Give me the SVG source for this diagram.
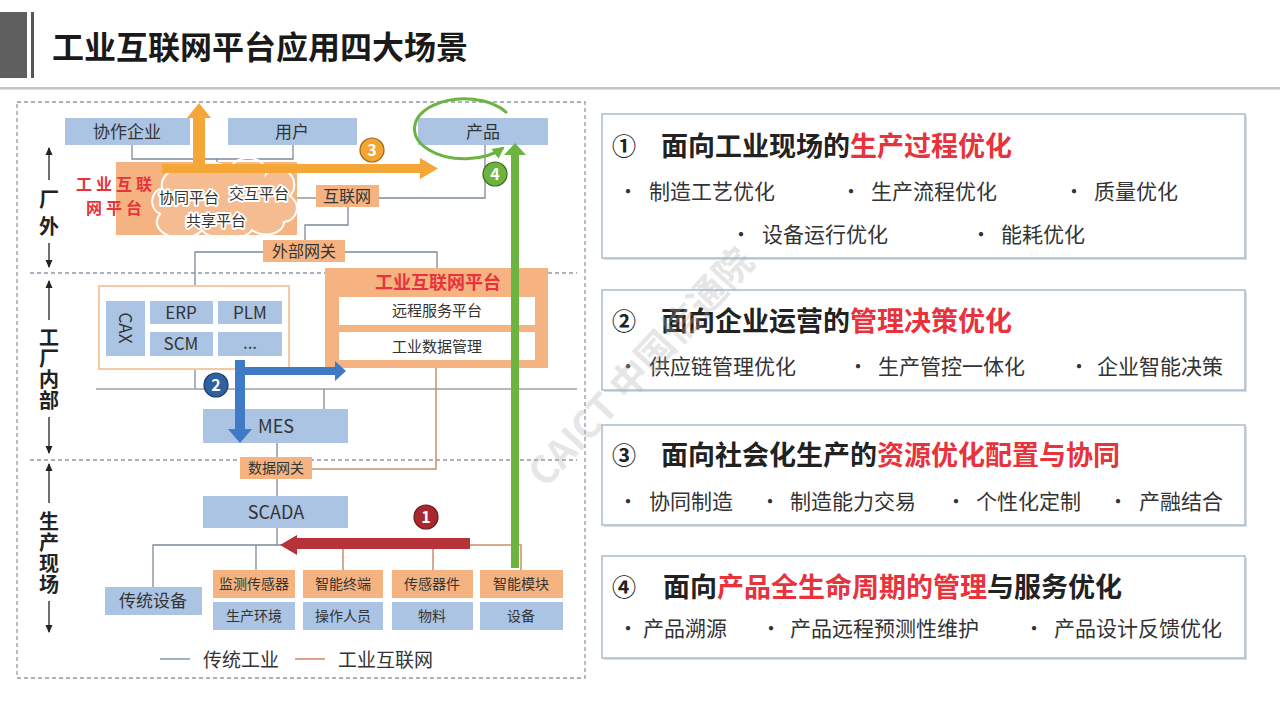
<svg xmlns="http://www.w3.org/2000/svg" width="1280" height="719" viewBox="0 0 1280 719">
<defs>
<style>
text{font-family:"Noto Sans CJK SC","Noto Sans",sans-serif;fill:#333}
.blue{fill:#abc4e3}
.org{fill:#f5b382}
.c{text-anchor:middle}
.f14{font-size:14px}
.f15{font-size:15px}
.f16{font-size:16px}
.f17{font-size:17px}
.f18{font-size:18px}
.side{font-size:20px;font-weight:bold;fill:#222;writing-mode:vertical-rl}
.red{fill:#e8323c;font-weight:bold}
.gl{stroke:#7d8a99;stroke-width:1.3;fill:none}
.ol{stroke:#c8906a;stroke-width:1.5;fill:none}
.dash{stroke:#8c9bab;stroke-width:1.3;stroke-dasharray:4 3;fill:none}
.halo{stroke:#fff;stroke-width:4;stroke-linejoin:round;paint-order:stroke}
.card{fill:#fff;stroke:#a8bccb;stroke-width:1.5}
.shadow{fill:#d9dde2}
.ct{font-size:27px;font-weight:bold;fill:#222}
.cn{font-size:24px;font-weight:bold;fill:#222}
.cr{fill:#e8323c}
.bt{font-size:21px;fill:#333}
.bul{font-size:20px;fill:#333}
.num{font-size:16px;font-weight:bold;fill:#fff;text-anchor:middle}
</style>
<marker id="ahK" markerWidth="8" markerHeight="8" refX="7" refY="4" orient="auto" markerUnits="userSpaceOnUse"><path d="M0,0.5 L8,4 L0,7.5 z" fill="#222"/></marker>
<marker id="ahG" markerWidth="14" markerHeight="14" refX="10" refY="7" orient="auto" markerUnits="userSpaceOnUse"><path d="M0,1 L12,7 L0,13 z" fill="#6cb33f"/></marker>
</defs>

<rect width="1280" height="719" fill="#fff"/>

<!-- header -->
<g id="header">
<rect x="0" y="12" width="27" height="66" fill="#5f5f5f"/>
<rect x="31" y="12" width="3" height="66" fill="#555"/>
<text x="52" y="59" style="font-size:32px;font-weight:bold;fill:#1a1a1a">工业互联网平台应用四大场景</text>
<rect x="0" y="87" width="1280" height="2.5" fill="#c4c4c4"/>
</g>

<!-- outer frame and section dividers -->
<g id="frame">
<rect x="17" y="102" width="568" height="576" class="dash"/>
<line x1="30" y1="273" x2="577" y2="273" class="dash"/>
<line x1="30" y1="460" x2="577" y2="460" class="dash"/>
</g>

<!-- side labels -->
<g id="side-outside">
<line x1="49" y1="180" x2="49" y2="148" stroke="#222" stroke-width="1.3" marker-end="url(#ahK)"/>
<text x="49" y="189" class="side" style="letter-spacing:7px">厂外</text>
<line x1="49" y1="243" x2="49" y2="267" stroke="#222" stroke-width="1.3" marker-end="url(#ahK)"/>
</g>
<g id="side-inside">
<line x1="49" y1="320" x2="49" y2="281" stroke="#222" stroke-width="1.3" marker-end="url(#ahK)"/>
<text x="49" y="327" class="side" style="letter-spacing:1px">工厂内部</text>
<line x1="49" y1="417" x2="49" y2="453" stroke="#222" stroke-width="1.3" marker-end="url(#ahK)"/>
</g>
<g id="side-field">
<line x1="49" y1="503" x2="49" y2="464" stroke="#222" stroke-width="1.3" marker-end="url(#ahK)"/>
<text x="49" y="511" class="side" style="letter-spacing:1px">生产现场</text>
<line x1="49" y1="601" x2="49" y2="632" stroke="#222" stroke-width="1.3" marker-end="url(#ahK)"/>
</g>

<!-- connectors -->
<g id="connectors">
<polyline points="132,145 132,159 293,159 293,145" class="gl"/>
<line x1="217" y1="159" x2="217" y2="163" class="gl"/>
<line x1="297" y1="198" x2="316" y2="198" class="gl"/>
<polyline points="379,198 485,198 485,145" class="gl"/>
<polyline points="348,207 348,225 305,225 305,240" class="gl"/>
<polyline points="263,252 195,252 195,286" class="gl"/>
<polyline points="345,252 437,252 437,268" class="gl"/>
<line x1="195" y1="369" x2="195" y2="389" class="gl"/>
<line x1="96" y1="389" x2="577" y2="389" stroke="#a0a0a0" stroke-width="1.5"/>
<line x1="324" y1="389" x2="324" y2="409" class="gl"/>
<line x1="277" y1="443" x2="277" y2="457" class="gl"/>
<polyline points="312,469 436,469 436,368" class="ol"/>
<line x1="277" y1="479" x2="277" y2="496" class="gl"/>
<line x1="277" y1="528" x2="277" y2="545" class="gl"/>
<polyline points="153,587 153,545 282,545" class="gl"/>
<line x1="256" y1="545" x2="256" y2="570" class="gl"/>
<line x1="343" y1="549" x2="343" y2="570" class="ol"/>
<line x1="433" y1="549" x2="433" y2="570" class="ol"/>
<polyline points="468,545 521,545 521,570" class="ol"/>
</g>

<!-- outside-factory nodes -->
<g id="node-xiezuo">
<rect x="65" y="118" width="125" height="27" class="blue"/>
<text x="127" y="138" class="c f17">协作企业</text>
</g>
<g id="node-yonghu">
<rect x="228" y="118" width="129" height="27" class="blue"/>
<text x="292" y="138" class="c f17">用户</text>
</g>
<g id="node-chanpin">
<rect x="418" y="118" width="130" height="27" class="blue"/>
<text x="483" y="138" class="c f17">产品</text>
</g>

<g id="node-platform-cloud">
<rect x="116" y="162" width="181" height="73" class="org"/>
<path d="M160,214 a14,14 0 0 1 2,-26 a18,16 0 0 1 28,-16 a22,14 0 0 1 40,-2 a18,14 0 0 1 36,4 a16,16 0 0 1 24,22 a14,14 0 0 1 -6,26 a18,12 0 0 1 -32,8 a26,12 0 0 1 -50,0 a18,12 0 0 1 -42,-16 z" fill="#fff" fill-opacity="0.12" stroke="#fff" stroke-width="2"/>
<text x="76" y="190" class="red" style="font-size:16px" textLength="76" lengthAdjust="spacing">工业互联</text>
<text x="86" y="214" class="red" style="font-size:16px" textLength="56" lengthAdjust="spacing">网平台</text>
<text x="189" y="203" class="c f15 halo">协同平台</text>
<text x="259" y="199" class="c f15 halo">交互平台</text>
<text x="216" y="226" class="c f15 halo">共享平台</text>
</g>

<g id="node-internet">
<rect x="316" y="185" width="63" height="22" class="org"/>
<text x="347" y="202" class="c f16">互联网</text>
</g>
<g id="node-ext-gateway">
<rect x="263" y="240" width="82" height="22" class="org"/>
<text x="304" y="257" class="c f16">外部网关</text>
</g>

<!-- factory internal -->
<g id="node-it-systems">
<rect x="99" y="286" width="190" height="83" fill="#fff" stroke="#f5c9a6" stroke-width="2"/>
<rect x="106" y="301" width="39" height="55" class="blue"/>
<text transform="translate(125,328) rotate(90)" x="0" y="6" class="c f17">CAX</text>
<rect x="150" y="301" width="63" height="23" class="blue"/>
<text x="181" y="319" class="c f17">ERP</text>
<rect x="218" y="301" width="64" height="23" class="blue"/>
<text x="250" y="319" class="c f17">PLM</text>
<rect x="150" y="332" width="63" height="24" class="blue"/>
<text x="181" y="350" class="c f17">SCM</text>
<rect x="218" y="332" width="64" height="24" class="blue"/>
<text x="250" y="349" class="c f17">...</text>
</g>

<g id="node-iip-factory">
<rect x="325" y="268" width="223" height="100" class="org"/>
<text x="438" y="289" class="c red" style="font-size:18px">工业互联网平台</text>
<rect x="339" y="297" width="196" height="28" fill="#fff"/>
<text x="437" y="316" class="c f15">远程服务平台</text>
<rect x="339" y="332" width="196" height="28" fill="#fff"/>
<text x="437" y="352" class="c f15">工业数据管理</text>
</g>

<g id="node-mes">
<rect x="203" y="409" width="145" height="34" class="blue"/>
<text x="276" y="433" class="c f18">MES</text>
</g>
<g id="node-data-gateway">
<rect x="240" y="457" width="72" height="22" class="org"/>
<text x="276" y="473" class="c f14">数据网关</text>
</g>
<g id="node-scada">
<rect x="203" y="496" width="145" height="32" class="blue"/>
<text x="276" y="519" class="c f18">SCADA</text>
</g>

<!-- field -->
<g id="node-traditional">
<rect x="105" y="587" width="97" height="28" class="blue"/>
<text x="153" y="607" class="c f17">传统设备</text>
</g>
<g id="node-col1">
<rect x="213" y="570" width="82" height="28" class="org"/>
<text x="254" y="589" class="c f14">监测传感器</text>
<rect x="213" y="602" width="82" height="28" class="blue"/>
<text x="254" y="621" class="c f14">生产环境</text>
</g>
<g id="node-col2">
<rect x="303" y="570" width="80" height="28" class="org"/>
<text x="343" y="589" class="c f14">智能终端</text>
<rect x="303" y="602" width="80" height="28" class="blue"/>
<text x="343" y="621" class="c f14">操作人员</text>
</g>
<g id="node-col3">
<rect x="392" y="570" width="81" height="28" class="org"/>
<text x="432" y="589" class="c f14">传感器件</text>
<rect x="392" y="602" width="81" height="28" class="blue"/>
<text x="432" y="621" class="c f14">物料</text>
</g>
<g id="node-col4">
<rect x="480" y="570" width="83" height="28" class="org"/>
<text x="521" y="589" class="c f14">智能模块</text>
<rect x="480" y="602" width="83" height="28" class="blue"/>
<text x="521" y="621" class="c f14">设备</text>
</g>

<!-- big flow arrows -->
<g id="arrow-3">
<polygon points="162,164 420,164 420,158 438,168.5 420,179 420,173 162,173" fill="#f4a636"/>
<polygon points="193,173 193,118 187,118 199,103 211,118 205,118 205,173" fill="#f4a636"/>
<circle cx="372" cy="150" r="12" fill="#f3a533" stroke="#9a6a1c" stroke-width="1.2"/>
<text x="372" y="156" class="num">3</text>
</g>
<g id="arrow-4">
<polygon points="511,568 511,155 504,155 515,143 526,155 519,155 519,568" fill="#6cb33f"/>
<path d="M507,113 A50,30 0 1 0 503,148" fill="none" stroke="#6cb33f" stroke-width="3" marker-end="url(#ahG)"/>
<circle cx="495" cy="174" r="12" fill="#6cb33f" stroke="#3d6e1e" stroke-width="1.2"/>
<text x="495" y="180" class="num">4</text>
</g>
<g id="arrow-2">
<polygon points="235,360 245,360 245,367 335,367 335,361 346,371 335,381 335,375 245,375 245,429 252,429 240,443 228,429 235,429" fill="#3f7bc4"/>
<circle cx="216" cy="385" r="12" fill="#2f609f" stroke="#1d3d66" stroke-width="1.2"/>
<text x="216" y="391" class="num">2</text>
</g>
<g id="arrow-1">
<polygon points="470,538 297,538 297,535 280,545 297,555 297,549 470,549" fill="#b8323a"/>
<circle cx="426" cy="517" r="12" fill="#a8282e" stroke="#6d1a1e" stroke-width="1.2"/>
<text x="426" y="523" class="num">1</text>
</g>

<!-- legend -->
<g id="legend">
<line x1="160" y1="659" x2="190" y2="659" stroke="#7d98b3" stroke-width="1.5"/>
<text x="203" y="667" style="font-size:19px">传统工业</text>
<line x1="295" y1="659" x2="325" y2="659" stroke="#d9826b" stroke-width="1.5"/>
<text x="338" y="667" style="font-size:19px">工业互联网</text>
</g>

<!-- right cards -->
<g id="card-1">
<rect x="604" y="116" width="643" height="144" class="shadow"/>
<rect x="602" y="114" width="643" height="144" class="card"/>
<text x="612" y="155" class="cn">①</text>
<text x="661" y="156" class="ct">面向工业现场的<tspan class="cr">生产过程优化</tspan></text>
<text x="618" y="199" class="bul">•</text><text x="649" y="199" class="bt">制造工艺优化</text>
<text x="841" y="199" class="bul">•</text><text x="871" y="199" class="bt">生产流程优化</text>
<text x="1064" y="199" class="bul">•</text><text x="1094" y="199" class="bt">质量优化</text>
<text x="731" y="242" class="bul">•</text><text x="762" y="242" class="bt">设备运行优化</text>
<text x="971" y="242" class="bul">•</text><text x="1001" y="242" class="bt">能耗优化</text>
</g>
<g id="card-2">
<rect x="604" y="292" width="643" height="100" class="shadow"/>
<rect x="602" y="290" width="643" height="100" class="card"/>
<text x="612" y="330" class="cn">②</text>
<text x="661" y="331" class="ct">面向企业运营的<tspan class="cr">管理决策优化</tspan></text>
<text x="618" y="374" class="bul">•</text><text x="649" y="374" class="bt">供应链管理优化</text>
<text x="848" y="374" class="bul">•</text><text x="878" y="374" class="bt">生产管控一体化</text>
<text x="1069" y="374" class="bul">•</text><text x="1097" y="374" class="bt">企业智能决策</text>
</g>
<g id="card-3">
<rect x="604" y="427" width="643" height="100" class="shadow"/>
<rect x="602" y="425" width="643" height="100" class="card"/>
<text x="612" y="464" class="cn">③</text>
<text x="661" y="465" class="ct">面向社会化生产的<tspan class="cr">资源优化配置与协同</tspan></text>
<text x="618" y="509" class="bul">•</text><text x="649" y="509" class="bt">协同制造</text>
<text x="760" y="509" class="bul">•</text><text x="790" y="509" class="bt">制造能力交易</text>
<text x="946" y="509" class="bul">•</text><text x="976" y="509" class="bt">个性化定制</text>
<text x="1108" y="509" class="bul">•</text><text x="1139" y="509" class="bt">产融结合</text>
</g>
<g id="card-4">
<rect x="604" y="558" width="643" height="102" class="shadow"/>
<rect x="602" y="556" width="643" height="102" class="card"/>
<text x="612" y="596" class="cn">④</text>
<text x="663" y="597" class="ct">面向<tspan class="cr">产品全生命周期的管理</tspan>与服务优化</text>
<text x="618" y="636" class="bul">•</text><text x="643" y="636" class="bt">产品溯源</text>
<text x="761" y="636" class="bul">•</text><text x="790" y="636" class="bt">产品远程预测性维护</text>
<text x="1024" y="636" class="bul">•</text><text x="1054" y="636" class="bt">产品设计反馈优化</text>
</g>

<!-- watermark (on top, faint) -->
<g id="watermark" opacity="0.3">
<text transform="translate(642,368) rotate(-47)" x="0" y="12" class="c" style="font-size:38px;font-weight:bold;fill:#b0b0b0">CAICT 中国信通院</text>
</g>
</svg>
